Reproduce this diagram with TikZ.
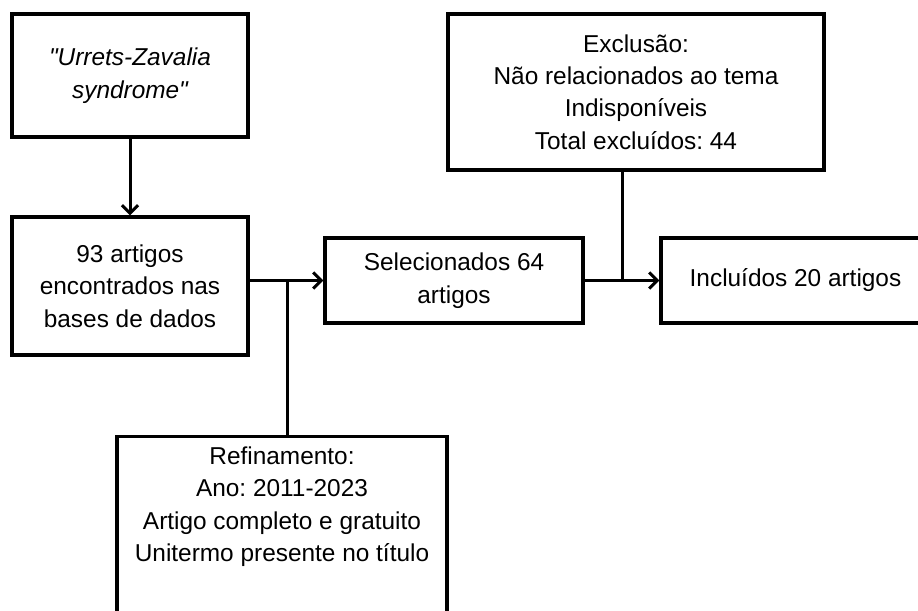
\documentclass[tikz,border=0pt]{standalone}
\usepackage{fontspec}
\setmainfont{Liberation Sans}
\usetikzlibrary{arrows.meta}
\frenchspacing

\begin{document}
\begin{tikzpicture}[x=0.5pt,y=-0.5pt,
    every node/.style={draw,line width=1.7pt,align=center,inner sep=2pt,font=\fontsize{12.2pt}{16.2pt}\selectfont},
    line/.style={line width=1.5pt},
    >={Straight Barb[length=4pt,width=8pt]}]
    \useasboundingbox (0,0) rectangle (918,611);
    \clip (0,0) rectangle (918,611);

    \node [minimum width=118pt, minimum height=61.5pt, font=\fontsize{12.2pt}{16.2pt}\selectfont\itshape] (query) at (130,75.5) {\textquotedbl Urrets-Zavalia\\syndrome\textquotedbl};
    \node [minimum width=118pt, minimum height=69pt] (found) at (130,286) {93 artigos\\encontrados nas\\bases de dados};
    \node [minimum width=129pt, minimum height=42.5pt] (selected) at (454,280.5) {Selecionados 64\\artigos};
    \node [minimum width=188pt, minimum height=78pt] (excluded) at (636,92) {Exclusão:\\Não relacionados ao tema\\Indisponíveis\\Total excluídos: 44};
    \node [minimum width=134.5pt, minimum height=42.5pt] (included) at (795.5,280.5) {Incluídos 20 artigos};
    \node [minimum width=165pt, inner ysep=5pt, anchor=north] (refine) at (282,435) {Refinamento:\\Ano: 2011-2023\\Artigo completo e gratuito\\Unitermo presente no título\\[24pt]\mbox{}};

    \coordinate (splitrefine) at (287,280.5);
    \coordinate (splitexcl) at (622,280.5);

    \draw [line,->] (query) -- (found);
    \draw [line,->] (found.east |- selected.west) -- (selected.west);
    \draw [line] (splitrefine) -- (splitrefine |- refine.north);
    \draw [line,->] (selected) -- (included);
    \draw [line] (splitexcl |- excluded.south) -- (splitexcl);
\end{tikzpicture}
\end{document}
